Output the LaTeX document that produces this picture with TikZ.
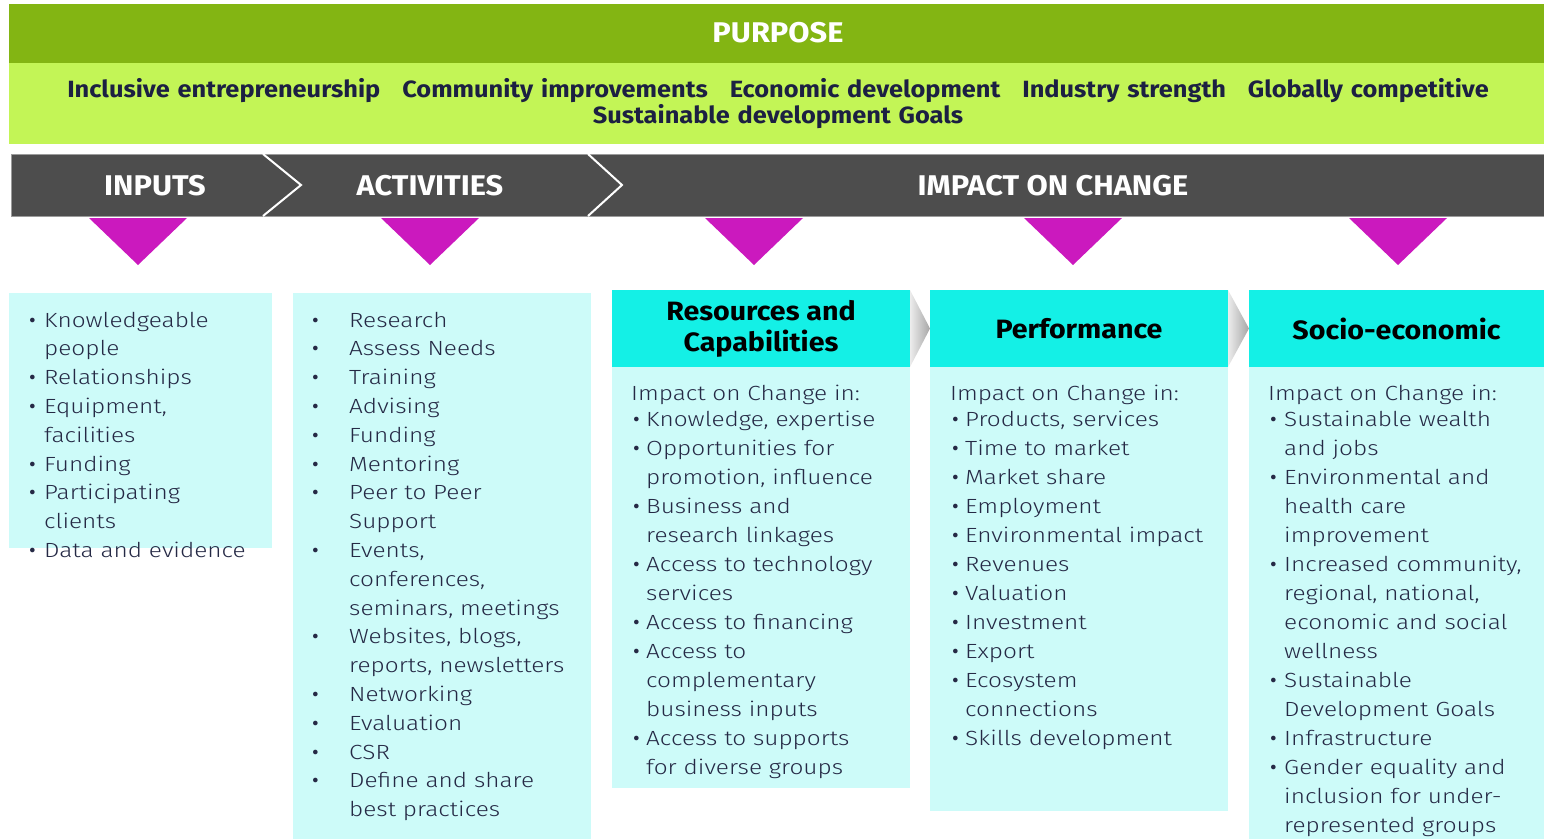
\documentclass[tikz,border=0pt]{standalone}
\usepackage{fontspec}
\setmainfont{Fira Sans}[FakeStretch=1.08]
\newfontfamily\lightfont{Fira Sans Light}[FakeStretch=1.19]
\newfontfamily\bulletfont{Fira Sans}

\definecolor{purposedark}{HTML}{83B513}
\definecolor{purposelight}{HTML}{C3F556}
\definecolor{band}{HTML}{4D4D4D}
\definecolor{bandedge}{HTML}{9B9B9B}
\definecolor{tri}{HTML}{CB19BE}
\definecolor{cyanhead}{HTML}{14F0E6}
\definecolor{cyanbody}{HTML}{CDFBF9}
\definecolor{navy}{HTML}{252945}
\definecolor{goalnavy}{HTML}{1C2042}
\definecolor{arrowlight}{HTML}{ECECEC}
\definecolor{arrowdark}{HTML}{A6A6A6}

\newlength\bulletw
\newlength\bulleto
\newcommand\bi{\makebox[\bulletw][l]{\hspace*{\bulleto}{\bulletfont\textbullet}}}
\newcommand\ci{\hspace*{\bulletw}}

\tikzset{
  bandlabel/.style={text=white, inner sep=0, font=\bfseries\fontsize{28.5}{30}\selectfont},
  hdr/.style={fill=cyanhead, inner sep=0, outer sep=0, minimum height=77pt,
    align=center, font=\bfseries\fontsize{26.5}{31}\selectfont},
  bodybox/.style={fill=cyanbody, inner sep=0, outer sep=0, anchor=north west},
  bodytext/.style={anchor=base west, inner sep=0, text width=300pt, align=left,
    text=navy, font=\lightfont\fontsize{20.5}{28.8}\selectfont},
  impacttext/.style={bodytext, font=\lightfont\fontsize{20.5}{29}\selectfont},
  bullets/.style 2 args={execute at begin node={\setlength\bulletw{#1}\setlength\bulleto{#2}}},
  tripointer/.style={fill=tri},
}

\begin{document}
\begin{tikzpicture}[x=1pt,y=-1pt]
\useasboundingbox (0,0) rectangle (1544,839);

% purpose banner
\fill[purposedark] (9,4) rectangle (1544,63);
\fill[purposelight] (9,63) rectangle (1544,144);
\node[text=white, inner sep=0, font=\bfseries\fontsize{28.5}{30}\selectfont] (purpose) at (778,33) {PURPOSE};
\node[anchor=base, inner sep=0, text width=1500pt, align=center, text=goalnavy,
      font=\bfseries\fontsize{23.5}{26}\selectfont] (goals) at (778,97)
  {Inclusive entrepreneurship\hspace{22pt}Community improvements\hspace{22pt}Economic development\hspace{22pt}Industry strength\hspace{22pt}Globally competitive\\
   Sustainable development Goals};

% process band
\draw[line width=1pt, draw=bandedge, fill=band] (11,154) rectangle (1544,216);
\draw[white, line width=2pt] (263,154) -- (301,185) -- (263,216);
\draw[white, line width=2pt] (588,154) -- (622,185) -- (588,216);
\node[bandlabel] (inputs) at (155,186) {INPUTS};
\node[bandlabel] (activities) at (430,186) {ACTIVITIES};
\node[bandlabel] (impact) at (1053,186) {IMPACT ON CHANGE};

% pointers
\foreach \cx in {138,430,754,1073,1398}
  \fill[tripointer] (\cx-49,218) -- (\cx+49,218) -- (\cx,265) -- cycle;

% column boxes
\node[bodybox, minimum width=263pt, minimum height=255pt] (inbox) at (9,293) {};
\node[bodybox, minimum width=298pt, minimum height=546pt] (actbox) at (293,293) {};
\node[hdr, minimum width=298pt] (res) at (761,328.5) {Resources and\\Capabilities};
\node[hdr, minimum width=298pt] (perf) at (1079,328.5) {Performance};
\node[hdr, minimum width=295pt] (socio) at (1396.5,328.5) {Socio-economic};
\node[bodybox, minimum width=298pt, minimum height=421pt] (resbody) at (res.south west) {};
\node[bodybox, minimum width=298pt, minimum height=444pt] (perfbody) at (perf.south west) {};
\node[bodybox, minimum width=295pt, minimum height=472pt] (sociobody) at (socio.south west) {};

% chevrons between impact stages
\shade[left color=arrowlight, right color=arrowdark] (res.north east) -- (perf.west) -- (res.south east) -- cycle;
\shade[left color=arrowlight, right color=arrowdark] (perf.north east) -- (socio.west) -- (perf.south east) -- cycle;

% column texts
\node[bodytext, bullets={15pt}{0pt}] (intext) at (29,327)
  {\bi Knowledgeable\\ \ci people\\ \bi Relationships\\ \bi Equipment,\\ \ci facilities\\
   \bi Funding\\ \bi Participating\\ \ci clients\\ \bi Data and evidence};

\node[bodytext, bullets={37pt}{0pt}] (acttext) at (312,327)
  {\bi Research\\ \bi Assess Needs\\ \bi Training\\ \bi Advising\\ \bi Funding\\ \bi Mentoring\\
   \bi Peer to Peer\\ \ci Support\\ \bi Events,\\ \ci conferences,\\ \ci seminars, meetings\\
   \bi Websites, blogs,\\ \ci reports, newsletters\\ \bi Networking\\ \bi Evaluation\\ \bi CSR\\
   \bi Define and share\\ \ci best practices};

\node[impacttext, bullets={15pt}{2pt}] (restext) at (631,400)
  {Impact on Change in:\\[-3pt]
   \bi Knowledge, expertise\\ \bi Opportunities for\\ \ci promotion, influence\\
   \bi Business and\\ \ci research linkages\\ \bi Access to technology\\ \ci services\\
   \bi Access to financing\\ \bi Access to\\ \ci complementary\\ \ci business inputs\\
   \bi Access to supports\\ \ci for diverse groups};

\node[impacttext, bullets={15pt}{2pt}] (perftext) at (950,400)
  {Impact on Change in:\\[-3pt]
   \bi Products, services\\ \bi Time to market\\ \bi Market share\\ \bi Employment\\
   \bi Environmental impact\\ \bi Revenues\\ \bi Valuation\\ \bi Investment\\ \bi Export\\
   \bi Ecosystem\\ \ci connections\\ \bi Skills development};

\node[impacttext, bullets={16pt}{2pt}] (sociotext) at (1268,400)
  {Impact on Change in:\\[-3pt]
   \bi Sustainable wealth\\ \ci and jobs\\ \bi Environmental and\\ \ci health care\\ \ci improvement\\
   \bi Increased community,\\ \ci regional, national,\\ \ci economic and social\\ \ci wellness\\
   \bi Sustainable\\ \ci Development Goals\\ \bi Infrastructure\\ \bi Gender equality and\\
   \ci inclusion for under-\\ \ci represented groups};
\end{tikzpicture}
\end{document}
